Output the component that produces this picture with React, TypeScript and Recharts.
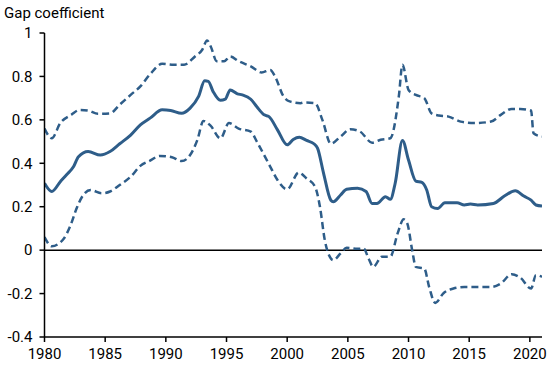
import React from "react";
import { LineChart, Line, XAxis, YAxis, ReferenceLine } from "recharts";

const xTicks = [1980, 1985, 1990, 1995, 2000, 2005, 2010, 2015, 2020];
const yTicks = [-0.4, -0.2, 0, 0.2, 0.4, 0.6, 0.8, 1];

const midYears = [1980.0, 1980.6, 1981.3, 1981.8, 1982.4, 1982.8, 1983.6, 1984.6, 1985.4, 1986.2, 1987.1, 1987.9, 1988.7, 1989.7, 1990.4, 1991.3, 1992.0, 1992.7, 1993.2, 1993.5, 1993.9, 1994.5, 1994.9, 1995.3, 1995.9, 1996.3, 1997.0, 1997.5, 1998.1, 1998.5, 1999.2, 2000.0, 2000.5, 2001.0, 2001.6, 2002.2, 2002.5, 2003.0, 2003.6, 2003.8, 2004.4, 2004.9, 2005.8, 2006.5, 2007.0, 2007.4, 2008.1, 2008.5, 2008.9, 2009.5, 2010.0, 2010.6, 2011.1, 2011.5, 2011.9, 2012.4, 2013.0, 2014.0, 2014.6, 2015.1, 2015.7, 2017.0, 2017.9, 2018.8, 2019.5, 2020.1, 2020.5, 2021.0];
const midValues = [0.308, 0.27, 0.315, 0.346, 0.385, 0.43, 0.454, 0.438, 0.454, 0.49, 0.53, 0.577, 0.608, 0.646, 0.643, 0.63, 0.654, 0.708, 0.78, 0.777, 0.73, 0.69, 0.695, 0.738, 0.72, 0.715, 0.695, 0.66, 0.623, 0.615, 0.554, 0.485, 0.51, 0.52, 0.505, 0.49, 0.47, 0.354, 0.23, 0.223, 0.254, 0.28, 0.285, 0.27, 0.215, 0.215, 0.246, 0.234, 0.308, 0.505, 0.415, 0.318, 0.312, 0.277, 0.2, 0.192, 0.218, 0.218, 0.208, 0.212, 0.208, 0.215, 0.249, 0.274, 0.249, 0.23, 0.208, 0.203];

const upperYears = [1980.0, 1980.6, 1981.3, 1982.2, 1982.9, 1983.6, 1984.4, 1985.4, 1986.2, 1987.1, 1987.9, 1988.7, 1989.7, 1990.5, 1991.5, 1992.4, 1993.0, 1993.4, 1993.7, 1994.2, 1994.8, 1995.3, 1996.0, 1997.0, 1997.9, 1998.6, 1999.0, 1999.7, 2000.2, 2001.1, 2001.4, 2002.3, 2002.9, 2003.6, 2004.4, 2005.2, 2006.0, 2007.0, 2007.7, 2008.5, 2009.2, 2009.5, 2010.0, 2010.6, 2011.3, 2011.9, 2012.5, 2013.3, 2014.3, 2015.4, 2016.8, 2017.6, 2018.5, 2019.2, 2020.1, 2020.3, 2021.0];
const upperValues = [0.56, 0.515, 0.585, 0.623, 0.646, 0.643, 0.628, 0.63, 0.67, 0.715, 0.754, 0.81, 0.858, 0.854, 0.854, 0.892, 0.923, 0.966, 0.938, 0.87, 0.87, 0.892, 0.87, 0.846, 0.818, 0.83, 0.8, 0.708, 0.685, 0.677, 0.68, 0.677, 0.6, 0.49, 0.523, 0.557, 0.546, 0.495, 0.508, 0.515, 0.708, 0.854, 0.738, 0.715, 0.7, 0.63, 0.62, 0.615, 0.592, 0.585, 0.592, 0.623, 0.65, 0.65, 0.643, 0.538, 0.523];

const lowerYears = [1980.0, 1980.6, 1981.6, 1982.1, 1982.7, 1983.1, 1983.8, 1984.7, 1985.4, 1986.2, 1987.1, 1987.9, 1988.7, 1989.5, 1990.5, 1991.3, 1992.0, 1992.6, 1993.1, 1993.7, 1994.5, 1995.2, 1996.0, 1997.0, 1997.5, 1998.1, 1998.6, 1999.2, 2000.0, 2000.95, 2001.6, 2002.3, 2002.7, 2003.1, 2003.6, 2003.8, 2004.4, 2004.9, 2005.8, 2006.3, 2006.7, 2007.1, 2007.8, 2008.5, 2009.1, 2009.6, 2009.9, 2010.3, 2010.6, 2011.3, 2011.7, 2012.2, 2012.9, 2013.7, 2014.6, 2016.8, 2017.6, 2018.5, 2019.2, 2020.1, 2020.5, 2021.0];
const lowerValues = [0.06, 0.018, 0.054, 0.108, 0.2, 0.246, 0.277, 0.262, 0.27, 0.3, 0.338, 0.388, 0.412, 0.434, 0.428, 0.41, 0.438, 0.508, 0.595, 0.572, 0.515, 0.585, 0.56, 0.546, 0.5, 0.438, 0.385, 0.323, 0.28, 0.357, 0.33, 0.292, 0.2, 0.046, -0.038, -0.046, -0.015, 0.011, 0.006, 0.008, -0.038, -0.077, -0.03, -0.03, 0.077, 0.142, 0.123, 0, -0.077, -0.085, -0.17, -0.243, -0.197, -0.177, -0.17, -0.17, -0.154, -0.111, -0.126, -0.177, -0.115, -0.123];

const toData = (xs: number[], ys: number[]) => xs.map((x, i) => ({ year: x, v: ys[i] }));
const midData = toData(midYears, midValues);
const upperData = toData(upperYears, upperValues);
const lowerData = toData(lowerYears, lowerValues);

const COLOR = "#2e5d89";
const FONT = "Roboto, 'Noto Sans', sans-serif";

export default function App() {
  return (
    <div style={{ position: "absolute", left: 0, top: 0, width: 550, height: 365, background: "#fff" }}>
      <div style={{ position: "absolute", left: 4, top: 4, fontFamily: FONT, fontSize: 15, color: "#000", whiteSpace: "nowrap" }}>
        Gap coefficient
      </div>
      <LineChart width={550} height={365} margin={{ top: 33, right: 8, left: 0, bottom: 0 }}>
        <XAxis
          dataKey="year"
          type="number"
          domain={[1980, 2021]}
          ticks={xTicks}
          allowDataOverflow
          height={28}
          stroke="#000"
          strokeWidth={1.5}
          tickSize={5}
          tickMargin={6}
          tick={{ fill: "#000", fontSize: 15, fontFamily: FONT }}
          interval={0}
        />
        <YAxis
          type="number"
          domain={[-0.4, 1]}
          ticks={yTicks}
          width={44.5}
          stroke="#000"
          strokeWidth={1.5}
          tickSize={5}
          tickMargin={7}
          tick={{ fill: "#000", fontSize: 15, fontFamily: FONT }}
          tickFormatter={(v: number) => (Math.abs(v) < 1e-9 ? "0" : String(Number(v.toFixed(1))))}
          interval={0}
        />
        <ReferenceLine y={0} stroke="#000" strokeWidth={1.5} />
        <Line data={upperData} dataKey="v" type="monotone" stroke={COLOR} strokeWidth={2.5} strokeDasharray="7 4" dot={false} isAnimationActive={false} />
        <Line data={lowerData} dataKey="v" type="monotone" stroke={COLOR} strokeWidth={2.5} strokeDasharray="7 4" dot={false} isAnimationActive={false} />
        <Line data={midData} dataKey="v" type="monotone" stroke={COLOR} strokeWidth={3} dot={false} isAnimationActive={false} />
      </LineChart>
    </div>
  );
}
